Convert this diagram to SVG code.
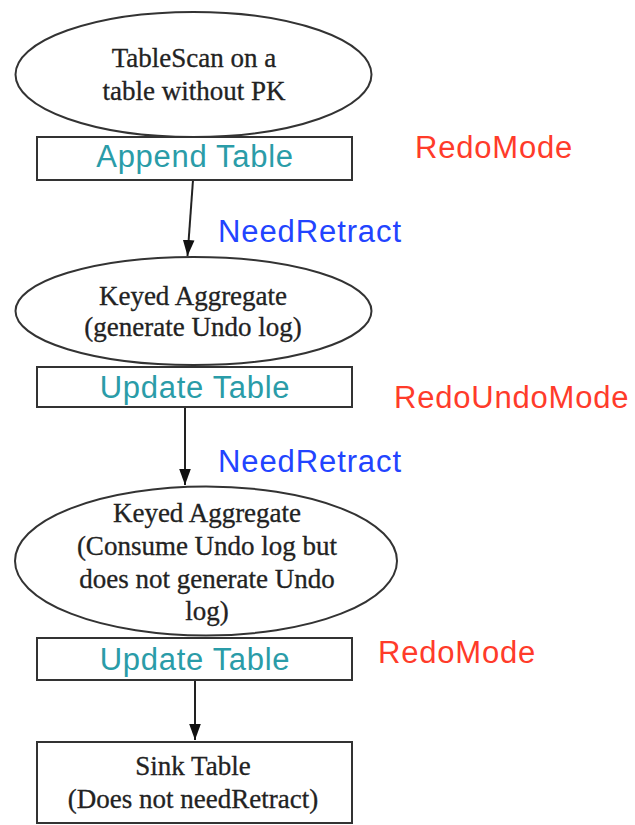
<svg xmlns="http://www.w3.org/2000/svg" width="635" height="825" viewBox="0 0 635 825">
<style>
.shape{fill:#fff;stroke:#333;stroke-width:2}
.serif{font-family:"Liberation Serif","Times New Roman",serif;font-size:27px;fill:#222;stroke:#222;stroke-width:0.3;text-anchor:middle}
.tbl{font-family:"Liberation Sans",Arial,sans-serif;font-size:31px;letter-spacing:0.7px;fill:#2a9ca8;text-anchor:middle}
.need{font-family:"Liberation Sans",Arial,sans-serif;font-size:31px;letter-spacing:0.9px;fill:#2244ff}
.mode{font-family:"Liberation Sans",Arial,sans-serif;font-size:31px;letter-spacing:0.8px;fill:#ff3b2a}
.edge{stroke:#222;stroke-width:2;fill:none}
</style>
<defs>
<marker id="arr" markerUnits="userSpaceOnUse" markerWidth="16" markerHeight="24" refX="22" refY="8" viewBox="0 0 22 16" orient="auto">
<path d="M0,0 L22,8 L0,16 Z" fill="#111"/>
</marker>
</defs>
<g id="connectors">
<line class="edge" x1="193" y1="180" x2="187.5" y2="256" marker-end="url(#arr)"/>
<line class="edge" x1="185" y1="407" x2="185" y2="485" marker-end="url(#arr)"/>
<line class="edge" x1="195" y1="680" x2="195" y2="740" marker-end="url(#arr)"/>
</g>
<g id="scan">
<ellipse class="shape" cx="193.5" cy="74.5" rx="178" ry="62.5"/>
<text class="serif" x="194" y="67">TableScan on a</text>
<text class="serif" x="194" y="100">table without PK</text>
</g>
<g id="append-table">
<rect class="shape" x="37" y="137" width="315" height="43"/>
<text class="tbl" x="195" y="167">Append Table</text>
</g>
<g id="agg1">
<ellipse class="shape" cx="193.5" cy="311" rx="178" ry="54"/>
<text class="serif" x="193" y="305">Keyed Aggregate</text>
<text class="serif" x="193" y="336">(generate Undo log)</text>
</g>
<g id="update-table-1">
<rect class="shape" x="37" y="367" width="315" height="40"/>
<text class="tbl" x="195" y="398">Update Table</text>
</g>
<g id="agg2">
<ellipse class="shape" cx="206" cy="561" rx="191" ry="74.5"/>
<text class="serif" x="207" y="522">Keyed Aggregate</text>
<text class="serif" x="207" y="555">(Consume Undo log but</text>
<text class="serif" x="207" y="588">does not generate Undo</text>
<text class="serif" x="207" y="620">log)</text>
</g>
<g id="update-table-2">
<rect class="shape" x="37" y="638" width="315" height="42"/>
<text class="tbl" x="195" y="670">Update Table</text>
</g>
<g id="sink">
<rect class="shape" x="37" y="742" width="315" height="81"/>
<text class="serif" x="193" y="775">Sink Table</text>
<text class="serif" x="193" y="808">(Does not needRetract)</text>
</g>
<g id="labels">
<text class="need" x="218" y="242">NeedRetract</text>
<text class="need" x="218" y="472">NeedRetract</text>
<text class="mode" x="415" y="158">RedoMode</text>
<text class="mode" x="394" y="408">RedoUndoMode</text>
<text class="mode" x="378" y="663">RedoMode</text>
</g>
</svg>
